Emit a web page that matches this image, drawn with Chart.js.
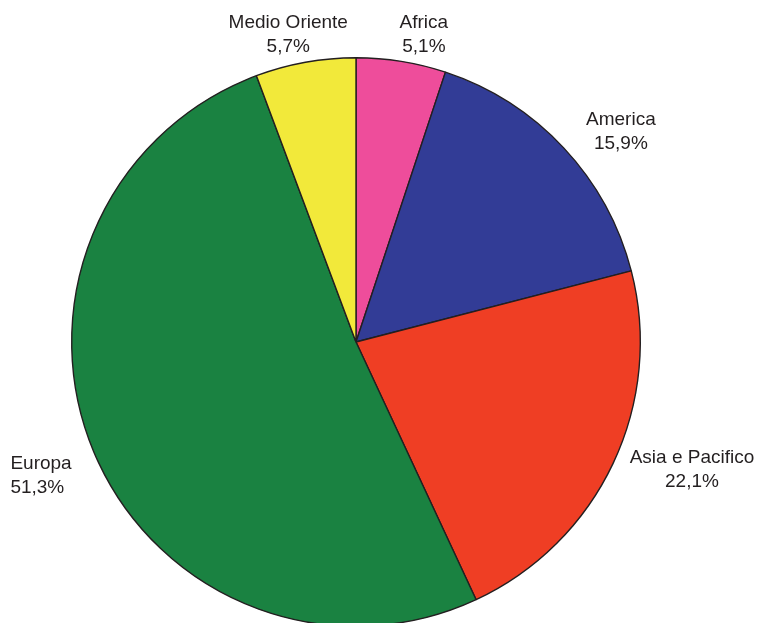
<!DOCTYPE html>
<html>
<head>
<meta charset="utf-8">
<script src="https://cdn.jsdelivr.net/npm/chart.js@4/dist/chart.umd.min.js"></script>
<style>
  html, body { margin: 0; padding: 0; background: #fff; overflow: hidden; }
  #wrap { position: relative; width: 761px; height: 700px; }
</style>
</head>
<body>
<div id="wrap"><canvas id="chart_1"></canvas></div>
<script>
// data
var regions = ['Africa', 'America', 'Asia e Pacifico', 'Europa', 'Medio Oriente'];
var shares = [5.1, 15.9, 22.1, 51.3, 5.7];
var sliceColors = ['#ee4d9b', '#323c96', '#ef3e24', '#1a8241', '#f2e93a'];

// label placement: [extra radius, angle shift in degrees, align]
var labelPlace = [
    [30, 3.3, 'center'],
    [54, 4.6, 'center'],
    [75, -4.5, 'center'],
    [58, -0.3, 'europa'],
    [30, -2.2, 'center']
];

var outsideLabels = {
    id: 'outsideLabels',
    afterDraw: function(chart) {
        var ctx = chart.ctx;
        var arcs = chart.getDatasetMeta(0).data;
        ctx.save();
        ctx.font = '19px "Liberation Sans", Arial, sans-serif';
        ctx.fillStyle = '#231f20';
        ctx.textBaseline = 'middle';
        arcs.forEach(function(arc, i) {
            var mid = (arc.startAngle + arc.endAngle) / 2 + labelPlace[i][1] * Math.PI / 180;
            var r = arc.outerRadius + labelPlace[i][0];
            var x = arc.x + Math.cos(mid) * r;
            var y = arc.y + Math.sin(mid) * r;
            var lines = [regions[i], shares[i].toFixed(1).replace('.', ',') + '%'];
            if (labelPlace[i][2] == 'europa') {
                var w = ctx.measureText(lines[0]).width;
                ctx.textAlign = 'left';
                x = x - w / 2;
            } else {
                ctx.textAlign = 'center';
            }
            ctx.fillText(lines[0], x, y - 12);
            ctx.fillText(lines[1], x, y + 12);
        });
        ctx.restore();
    }
};

var chart_1 = new Chart(document.getElementById('chart_1'), {
    type: 'pie',
    data: {
        labels: regions,
        datasets: [{
            data: shares,
            backgroundColor: sliceColors,
            borderColor: '#231f20',
            borderWidth: 1.4
        }]
    },
    options: {
        responsive: true,
        maintainAspectRatio: false,
        animation: false,
        layout: { padding: { left: 71, right: 120, top: 57, bottom: 73 } },
        plugins: {
            legend: { display: false },
            tooltip: { enabled: false }
        }
    },
    plugins: [outsideLabels]
});
</script>
</body>
</html>
